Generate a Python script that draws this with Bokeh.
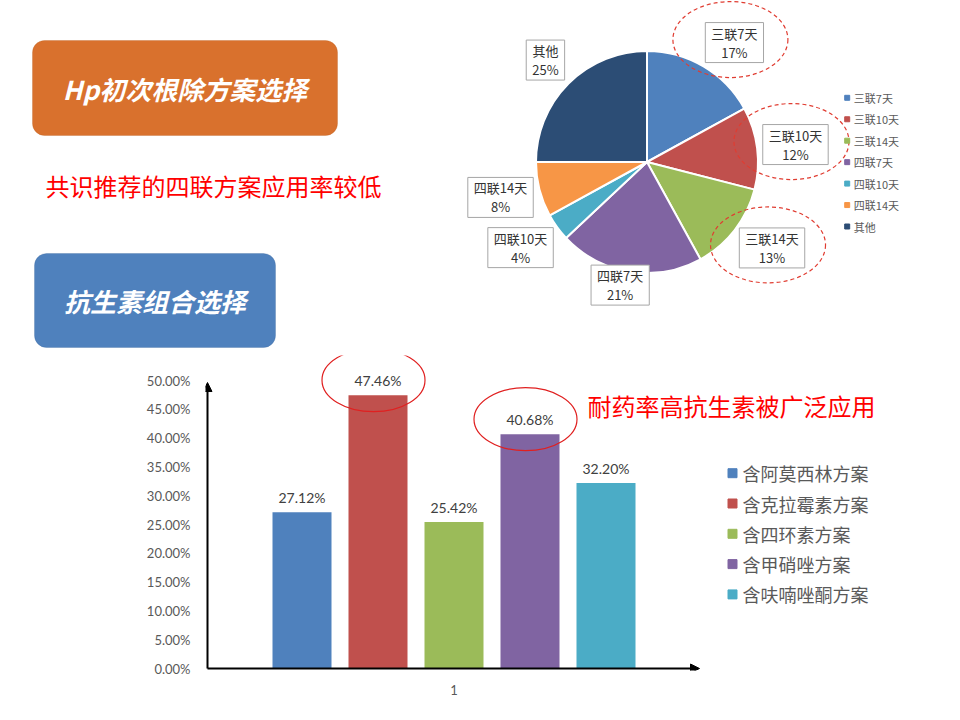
import numpy as np
from bokeh.plotting import figure
from bokeh.layouts import column, row
from bokeh.models import (Range1d, ColumnDataSource, BoxAnnotation, Label, Arrow,
                          NormalHead, FixedTicker, NumeralTickFormatter)
from bokeh.core.properties import value
from bokeh.embed import file_html
from bokeh.resources import INLINE

# ---------------- data ----------------
pie_labels = ["三联7天", "三联10天", "三联14天", "四联7天", "四联10天", "四联14天", "其他"]
pie_values = [17, 12, 13, 21, 4, 8, 25]
pie_colors = ["#4F81BD", "#C0504D", "#9BBB59", "#8064A2", "#4BACC6", "#F79646", "#2C4D75"]
pie_highlight = [True, True, True, False, False, False, False]

bar_names = ["含阿莫西林方案", "含克拉霉素方案", "含四环素方案", "含甲硝唑方案", "含呋喃唑酮方案"]
bar_values = [0.2712, 0.4746, 0.2542, 0.4068, 0.3220]
bar_colors = ["#4F81BD", "#C0504D", "#9BBB59", "#8064A2", "#4BACC6"]
bar_highlight = [False, True, False, True, False]
bar_category = [1]
y_ticks = [0.0, 0.05, 0.10, 0.15, 0.20, 0.25, 0.30, 0.35, 0.40, 0.45, 0.50]

title1 = "Hp初次根除方案选择"
title2 = "抗生素组合选择"
note1 = "共识推荐的四联方案应用率较低"
note2 = "耐药率高抗生素被广泛应用"

CJK = "Noto Sans CJK SC"
LAT = "Lato"
GRAY = "#595959"

# ---------------- left panel (titles) ----------------
left = figure(width=460, height=355, x_range=Range1d(0, 460), y_range=Range1d(355, 0),
              x_axis_location=None, y_axis_location=None, output_backend="svg",
              toolbar_location=None, min_border=0)
left.grid.visible = False
left.outline_line_color = None

left.add_layout(BoxAnnotation(left=32, right=337, top=40, bottom=135,
                              fill_color="#D9712D", fill_alpha=1.0,
                              line_color="#B8611F", line_width=1, border_radius=12))
left.add_layout(Label(x=184.5, y=88, text=title1, text_align="center", text_baseline="middle",
                      text_color="white", text_font=CJK, text_font_size="26px",
                      text_font_style="bold italic"))
left.add_layout(Label(x=45, y=185, text=note1, text_align="left", text_baseline="middle",
                      text_color="#FF0000", text_font=CJK, text_font_size="24px"))
left.add_layout(BoxAnnotation(left=34, right=275, top=253, bottom=347,
                              fill_color="#4F81BD", fill_alpha=1.0,
                              line_color="#3B679C", line_width=1, border_radius=12))
left.add_layout(Label(x=154.5, y=300, text=title2, text_align="center", text_baseline="middle",
                      text_color="white", text_font=CJK, text_font_size="26px",
                      text_font_style="bold italic"))

# ---------------- pie ----------------
pie = figure(width=500, height=355, x_range=Range1d(-186.5, 313.5), y_range=Range1d(-193.5, 161.5),
             x_axis_location=None, y_axis_location=None, output_backend="svg",
             toolbar_location=None, min_border=0)
pie.grid.visible = False
pie.outline_line_color = None

vals = np.array(pie_values, dtype=float)
frac = vals / vals.sum()
cum = np.concatenate([[0.0], np.cumsum(frac)])
start = np.pi / 2 - 2 * np.pi * cum[:-1]
end = np.pi / 2 - 2 * np.pi * cum[1:]
mid = (start + end) / 2

# callout layout (radius & small angular nudge from slice middle)
label_r = np.array([148, 149.5, 151.7, 126, 152.7, 150.7, 143.9])
label_nudge = np.radians([-5.6, -0.5, 3.3, -3.3, -1.9, -0.8, -0.1])
la = mid + label_nudge
lx = label_r * np.cos(la)
ly = label_r * np.sin(la)

psrc = ColumnDataSource(dict(
    start=start, end=end, color=pie_colors, name=pie_labels,
    lx=lx, ly=ly,
    txt=[f"{n}\n{v:g}%" for n, v in zip(pie_labels, pie_values)],
))
pie.wedge(x=0, y=0, radius=111, start_angle="start", end_angle="end", direction="clock",
          fill_color="color", line_color="white", line_width=2, source=psrc)
pie.text(x="lx", y="ly", text="txt", source=psrc, text_font=value(CJK), text_font_size="13px",
         text_color="#333333", text_align="center", text_baseline="middle", text_line_height=1.0,
         background_fill_color="white", border_line_color="#A6A6A6",
         padding=dict(left=6, right=6, top=1, bottom=1))

hi = [i for i, h in enumerate(pie_highlight) if h]
pie.ellipse(x=[lx[i] - 4 for i in hi], y=[ly[i] + 3 for i in hi], width=115, height=76,
            fill_color=None, line_color="#E03C31", line_dash="4 3", line_width=1.2)

# pie legend
n = len(pie_labels)
leg_y = 64.2 - 21.45 * np.arange(n)
pie.scatter(x=[200.2] * n, y=leg_y, marker="square", size=5, color=pie_colors)
pie.text(x=[206.8] * n, y=leg_y, text=pie_labels, text_font=value(CJK), text_font_size="11px",
         text_color=GRAY, text_baseline="middle", text_align="left")

# ---------------- bar chart ----------------
SY = 0.5 / 288.0          # data per px (y)
SX = 1.0 / 380.0          # data per px (x)
CAT_PX = 453.5            # category centre (window px)
FRAME_L = 205
x0 = bar_category[0] - (CAT_PX - FRAME_L) * SX
x1 = bar_category[0] + (960 - CAT_PX) * SX

bar = figure(width=960, height=365, x_range=Range1d(x0, x1), y_range=Range1d(-2 * SY, 313 * SY),
             output_backend="svg", toolbar_location=None,
             min_border_left=FRAME_L, min_border_right=0, min_border_top=0, min_border_bottom=50)
bar.grid.visible = False
bar.outline_line_color = None

nb = len(bar_values)
bx = bar_category[0] + (np.arange(nb) - (nb - 1) / 2) * 76 * SX
bsrc = ColumnDataSource(dict(x=bx, top=bar_values, color=bar_colors, name=bar_names,
                             lab=[f"{v*100:.2f}%" for v in bar_values]))
bar.vbar(x="x", top="top", width=59 * SX, bottom=0, fill_color="color", line_color=None, source=bsrc)
bar.text(x="x", y="top", text="lab", source=bsrc, y_offset=-15, text_font=value(LAT),
         text_font_size="14px", text_color="#404040", text_align="center", text_baseline="middle")

hb = [i for i, h in enumerate(bar_highlight) if h]
bar.ellipse(x=[bx[i] - 4.5 * SX for i in hb], y=[bar_values[i] + 15 * SY for i in hb],
            width=103, height=63, width_units="screen", height_units="screen",
            fill_color=None, line_color="#E02020", line_width=1.2)

yax = bar.yaxis[0]
yax.ticker = FixedTicker(ticks=y_ticks)
yax.formatter = NumeralTickFormatter(format="0.00%")
yax.bounds = (0, 0.5)
yax.axis_line_color = None
yax.major_tick_line_color = None
yax.minor_tick_line_color = None
yax.major_label_standoff = 9
yax.major_label_text_font = LAT
yax.major_label_text_font_size = "13px"
yax.major_label_text_color = GRAY

xax = bar.xaxis[0]
xax.ticker = FixedTicker(ticks=bar_category)
xax.formatter = NumeralTickFormatter(format="0")
xax.axis_line_color = None
xax.major_tick_line_color = None
xax.minor_tick_line_color = None
xax.major_label_standoff = 8
xax.major_label_text_font = LAT
xax.major_label_text_font_size = "13px"
xax.major_label_text_color = GRAY

ax_x = x0 + 2 * SX
bar.add_layout(Arrow(end=NormalHead(size=9, fill_color="black", line_color="black"),
                     x_start=ax_x, y_start=0, x_end=ax_x, y_end=0.4965,
                     line_color="black", line_width=2))
bar.add_layout(Arrow(end=NormalHead(size=9, fill_color="black", line_color="black"),
                     x_start=ax_x, y_start=0, x_end=bar_category[0] + (699 - CAT_PX) * SX, y_end=0,
                     line_color="black", line_width=2))

bar.add_layout(Label(x=bar_category[0] + (587 - CAT_PX) * SX, y=(668 - 405) * SY, text=note2,
                     text_align="left", text_baseline="middle", text_color="#FF0000",
                     text_font=CJK, text_font_size="24px"))

# bar legend
lg_y = (668 - (472.7 + 30.3 * np.arange(nb))) * SY
bar.scatter(x=[bar_category[0] + (732 - CAT_PX) * SX] * nb, y=lg_y, marker="square", size=9,
            color=bar_colors)
bar.text(x=[bar_category[0] + (742 - CAT_PX) * SX] * nb, y=lg_y, text=bar_names,
         text_font=value(CJK), text_font_size="18px", text_color=GRAY,
         text_align="left", text_baseline="middle")

layout = column(row(left, pie, spacing=0), bar, spacing=0)
open("out.html", "w").write(file_html(layout, INLINE))
